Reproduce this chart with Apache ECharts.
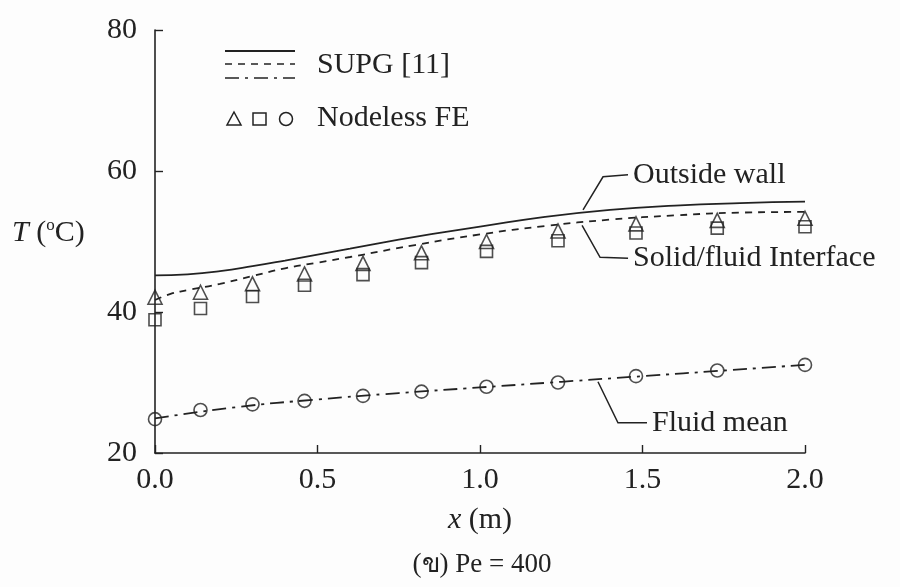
<!DOCTYPE html>
<html>
<head>
<meta charset="utf-8">
<script src="https://cdn.jsdelivr.net/npm/echarts@6/dist/echarts.min.js"></script>
<style>
html, body { margin: 0; background: #fdfdfd; }
#chart { width: 900px; height: 587px; }
</style>
</head>
<body>
<div id="chart"></div>
<script>
// SUPG [11] curves
const wallX = [0, 0.1, 0.2, 0.3, 0.4, 0.5, 0.6, 0.7, 0.8, 0.9, 1.0, 1.2, 1.4, 1.6, 1.8, 2.0];
const wallT = [45.2, 45.35, 45.8, 46.5, 47.3, 48.15, 49.0, 49.85, 50.65, 51.4, 52.1, 53.5, 54.5, 55.1, 55.45, 55.65];
const ifaceX = [0, 0.05, 0.1, 0.2, 0.3, 0.4, 0.5, 0.6, 0.8, 1.0, 1.2, 1.4, 1.6, 1.8, 2.0];
const ifaceT = [41.7, 42.6, 43.1, 44.0, 45.1, 46.2, 47.0, 47.8, 49.5, 51.0, 52.2, 53.1, 53.7, 54.1, 54.2];
const fluidX = [0, 0.25, 0.5, 0.75, 1.0, 1.25, 1.5, 1.75, 2.0];
const fluidT = [24.9, 26.5, 27.6, 28.5, 29.3, 30.1, 30.9, 31.7, 32.5];

// Nodeless FE results
const nodeX = [0, 0.14, 0.30, 0.46, 0.64, 0.82, 1.02, 1.24, 1.48, 1.73, 2.0];
const triT = [42.1, 42.8, 44.0, 45.4, 46.9, 48.4, 50.0, 51.5, 52.5, 53.0, 53.3];
const sqT = [38.9, 40.5, 42.2, 43.8, 45.3, 47.0, 48.6, 50.1, 51.2, 51.9, 52.1];
const circT = [24.8, 26.1, 26.9, 27.4, 28.1, 28.7, 29.4, 30.0, 30.9, 31.7, 32.5];

// callouts
const notes = ['Outside wall', 'Solid/fluid Interface', 'Fluid mean'];
const noteAt = [[1.317, 54.5], [1.314, 52.3], [1.363, 30.1]];

const ink = '#222';
const serif = '"Liberation Serif", "Times New Roman", serif';

function pairs(xs, ys) {
	return xs.map((x, i) => [x, ys[i]]);
}

function lineSeries(xs, ys, type) {
	return {
		type: 'line',
		data: pairs(xs, ys),
		smooth: true,
		symbol: 'none',
		lineStyle: { color: ink, width: 1.8, type: type },
		z: 2
	};
}

function markSeries(ys, symbol, size) {
	return {
		type: 'scatter',
		data: pairs(nodeX, ys),
		symbol: symbol,
		symbolSize: size,
		itemStyle: { color: 'rgba(0,0,0,0)', borderColor: ink, borderWidth: 1.6 },
		z: 3
	};
}

const option = {
	backgroundColor: '#fdfdfd',
	animation: false,
	grid: { left: 155, right: 95, top: 30, bottom: 134 },
	xAxis: {
		type: 'value',
		min: 0,
		max: 2,
		interval: 0.5,
		name: '{i|x} (m)',
		nameLocation: 'middle',
		nameGap: 52,
		nameTextStyle: {
			color: ink, fontFamily: serif, fontSize: 30,
			rich: { i: { fontStyle: 'italic', fontFamily: serif, fontSize: 30, color: ink } }
		},
		axisLine: { lineStyle: { color: ink, width: 1.6 } },
		axisTick: { inside: true, length: 8, lineStyle: { color: ink, width: 1.4 } },
		axisLabel: {
			color: ink, fontFamily: serif, fontSize: 30, margin: 12,
			formatter: v => v.toFixed(1)
		},
		splitLine: { show: false }
	},
	yAxis: {
		type: 'value',
		min: 20,
		max: 80,
		interval: 20,
		axisLine: { show: true, lineStyle: { color: ink, width: 1.6 } },
		axisTick: { show: true, inside: true, length: 8, lineStyle: { color: ink, width: 1.4 } },
		axisLabel: { color: ink, fontFamily: serif, fontSize: 30, margin: 18 },
		splitLine: { show: false }
	},
	series: [
		lineSeries(wallX, wallT, 'solid'),
		lineSeries(ifaceX, ifaceT, [7, 6]),
		lineSeries(fluidX, fluidT, [14, 6, 3, 6]),
		markSeries(triT, 'triangle', 14),
		markSeries(sqT, 'rect', 12),
		markSeries(circT, 'circle', 13)
	]
};

const chart = echarts.init(document.getElementById('chart'));
chart.setOption(option);

// legend, axis title, caption and callouts
const graphics = [
	{ type: 'line', shape: { x1: 225, y1: 51, x2: 295, y2: 51 }, style: { stroke: ink, lineWidth: 1.8 } },
	{ type: 'line', shape: { x1: 225, y1: 64, x2: 295, y2: 64 }, style: { stroke: ink, lineWidth: 1.6, lineDash: [7, 6] } },
	{ type: 'line', shape: { x1: 225, y1: 78, x2: 295, y2: 78 }, style: { stroke: ink, lineWidth: 1.6, lineDash: [14, 6, 3, 6] } },
	{ type: 'text', style: { text: 'SUPG [11]', x: 317, y: 65, fill: ink, fontFamily: serif, fontSize: 30, verticalAlign: 'middle' } },
	{ type: 'polygon', shape: { points: [[234, 112], [241, 125], [227, 125]] }, style: { fill: 'none', stroke: ink, lineWidth: 1.5 } },
	{ type: 'rect', shape: { x: 253, y: 113, width: 13, height: 12 }, style: { fill: 'none', stroke: ink, lineWidth: 1.5 } },
	{ type: 'circle', shape: { cx: 286, cy: 119, r: 6.5 }, style: { fill: 'none', stroke: ink, lineWidth: 1.5 } },
	{ type: 'text', style: { text: 'Nodeless FE', x: 317, y: 118, fill: ink, fontFamily: serif, fontSize: 30, verticalAlign: 'middle' } },
	{
		type: 'text',
		style: {
			text: '{i|T} ({s|o}C)', x: 12, y: 233, fill: ink, fontFamily: serif, fontSize: 30, verticalAlign: 'middle',
			rich: {
				i: { fontStyle: 'italic', fontFamily: serif, fontSize: 30, fill: ink },
				s: { fontFamily: serif, fontSize: 17, fill: ink, padding: [0, 0, 14, 0] }
			}
		}
	},
	{ type: 'text', style: { text: '(ข) Pe = 400', x: 482, y: 565, fill: ink, fontFamily: serif, fontSize: 27, align: 'center', verticalAlign: 'middle' } }
];

const bends = [[[20, -33], [45, -35]], [[18, 32], [46, 33]], [[20, 41], [49, 41]]];
notes.forEach((txt, i) => {
	const p = chart.convertToPixel({ gridIndex: 0 }, noteAt[i]);
	const pts = [p, [p[0] + bends[i][0][0], p[1] + bends[i][0][1]], [p[0] + bends[i][1][0], p[1] + bends[i][1][1]]];
	graphics.push({ type: 'polyline', shape: { points: pts }, style: { stroke: ink, lineWidth: 1.5, fill: null }, z: 10 });
	graphics.push({
		type: 'text',
		style: { text: txt, x: pts[2][0] + 5, y: pts[2][1], fill: ink, fontFamily: serif, fontSize: 30, verticalAlign: 'middle' },
		z: 10
	});
});

chart.setOption({ graphic: graphics });
</script>
</body>
</html>
